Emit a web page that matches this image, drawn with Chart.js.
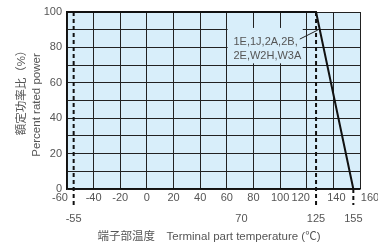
<!DOCTYPE html>
<html>
<head>
<meta charset="utf-8">
<script src="https://cdn.jsdelivr.net/npm/chart.js@4"></script>
<style>
  html, body { margin: 0; padding: 0; background: #fff; }
  #wrap { width: 378px; height: 244px; }
</style>
</head>
<body>
<div id="wrap"><canvas id="chart" width="378" height="244"></canvas></div>
<script>
// data
const deratingX = [-60, 127, 155];
const deratingY = [100, 100, 0];
const markerX = [-55, 127, 155];          // dashed guide lines
const markerTop = [100, 100, 0];
const markerBottom = -9;
const extraLabels = ['-55', '70', '125', '155'];
const extraLabelX = [-55, 71, 127, 155];
const noteLines = ['1E,1J,2A,2B,', '2E,W2H,W3A'];

const FONT = '"Liberation Sans", Arial, "Noto Sans CJK JP", sans-serif';
const TXT = '#555';

// offsets for x tick labels that sit next to the dashed lines
const tickShift = { '-60': -7, '120': -6, '140': 3, '160': 10 };

const datasets = [{
    data: deratingX.map((x, i) => ({ x: x, y: deratingY[i] })),
    borderColor: '#111', borderWidth: 2, pointRadius: 0, tension: 0, clip: false
}];
markerX.forEach((x, i) => {
    datasets.push({
        data: [{ x: x, y: markerTop[i] }, { x: x, y: markerBottom }],
        borderColor: '#111', borderWidth: 2, borderDash: [4, 3],
        pointRadius: 0, clip: false
    });
});

const decor = {
    id: 'decor',
    beforeDraw(chart) {
        const { ctx, chartArea: a } = chart;
        ctx.save();
        ctx.fillStyle = '#d8eefa';
        ctx.fillRect(a.left, a.top, a.right - a.left, a.bottom - a.top);
        ctx.restore();
    },
    afterDatasetsDraw(chart) {
        const { ctx, chartArea: a } = chart;
        const xs = chart.scales.x, ys = chart.scales.y;
        ctx.save();
        // note box over the grid
        const bx1 = xs.getPixelForValue(60.6), bx2 = xs.getPixelForValue(117);
        const by1 = ys.getPixelForValue(91), by2 = ys.getPixelForValue(71);
        ctx.fillStyle = '#d8eefa';
        ctx.fillRect(bx1, by1, bx2 - bx1, by2 - by1);
        ctx.fillStyle = TXT;
        ctx.font = '11px ' + FONT;
        ctx.textBaseline = 'middle';
        ctx.textAlign = 'left';
        ctx.fillText(noteLines[0], xs.getPixelForValue(65), ys.getPixelForValue(83.2));
        ctx.fillText(noteLines[1], xs.getPixelForValue(65), ys.getPixelForValue(75.3));
        ctx.strokeStyle = '#222';
        ctx.lineWidth = 1;
        ctx.beginPath();
        ctx.moveTo(xs.getPixelForValue(114.8), ys.getPixelForValue(84.7));
        ctx.lineTo(xs.getPixelForValue(128.3), ys.getPixelForValue(89.8));
        ctx.stroke();

        // x tick labels
        ctx.textAlign = 'center';
        xs.ticks.forEach(t => {
            const s = String(t.value);
            ctx.fillText(s, xs.getPixelForValue(t.value) + (tickShift[s] || 0), a.bottom + 9);
        });
        // second row of labels
        extraLabels.forEach((s, i) => {
            ctx.fillText(s, xs.getPixelForValue(extraLabelX[i]), a.bottom + 30);
        });
        // axis titles
        ctx.font = '11.5px ' + FONT;
        ctx.fillText('端子部温度\u3000Terminal part temperature (℃)', 209, 237);
        ctx.translate(22, 90);
        ctx.rotate(-Math.PI / 2);
        ctx.fillText('額定功率比（%）', 0, 0);
        ctx.rotate(Math.PI / 2);
        ctx.translate(15, 15);
        ctx.rotate(-Math.PI / 2);
        ctx.fillText('Percent rated power', 0, 0);
        ctx.restore();
    }
};

new Chart(document.getElementById('chart'), {
    type: 'line',
    data: { datasets: datasets },
    options: {
        responsive: false,
        animation: false,
        layout: { padding: { top: 12, right: 18, left: 0, bottom: 0 } },
        plugins: { legend: { display: false }, tooltip: { enabled: false } },
        scales: {
            x: {
                type: 'linear', min: -60, max: 160,
                ticks: { stepSize: 20, display: false },
                grid: { color: '#222', lineWidth: 1, drawTicks: false },
                border: { color: '#111', width: 1.5 },
                afterFit: s => { s.height = 55; }
            },
            y: {
                min: 0, max: 100,
                ticks: {
                    stepSize: 10, padding: 5, color: TXT,
                    font: { size: 11, family: FONT },
                    callback: v => (v % 20 === 0 ? v : '')
                },
                grid: { color: '#222', lineWidth: 1, drawTicks: false },
                border: { color: '#111', width: 1.5 },
                afterFit: s => { s.width = 67; }
            }
        }
    },
    plugins: [decor]
});
</script>
</body>
</html>
